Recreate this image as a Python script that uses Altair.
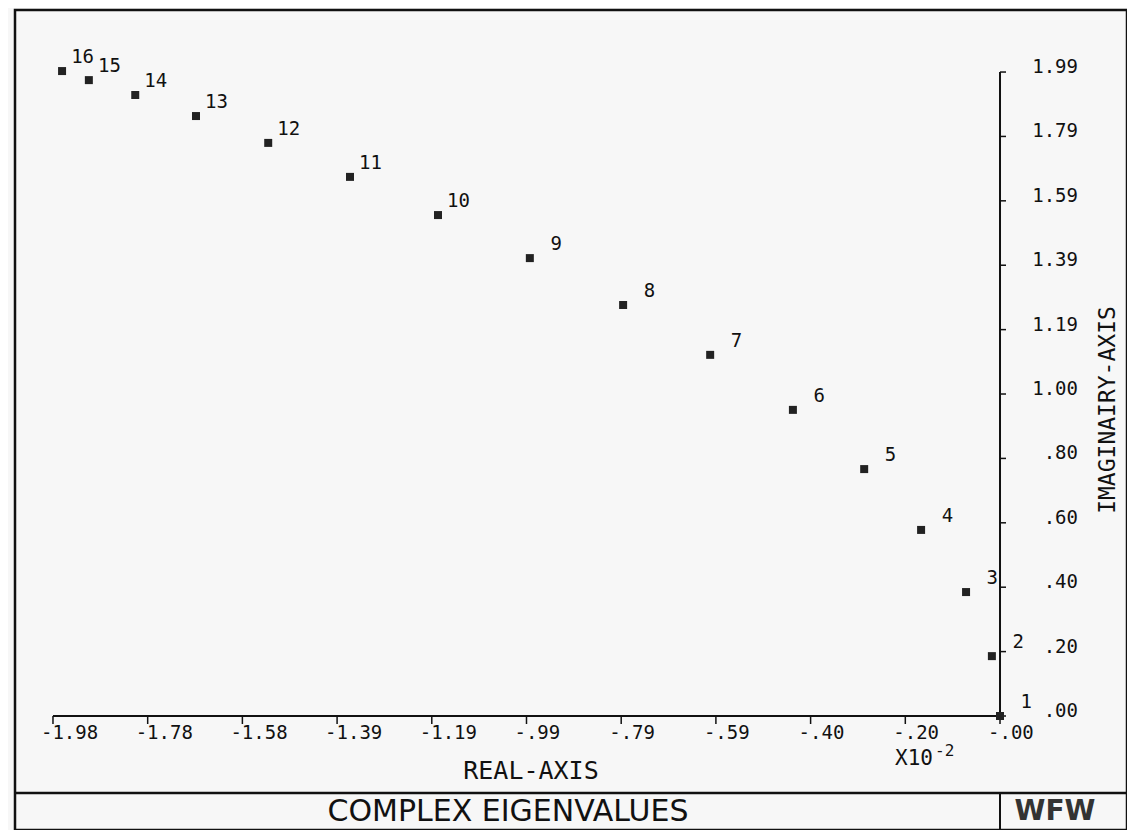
import altair as alt
import pandas as pd

# ---- data ----
point_id = list(range(1, 17))
real_part = [0.0, -0.017, -0.071, -0.165, -0.284, -0.433, -0.606, -0.788,
             -0.983, -1.175, -1.359, -1.530, -1.681, -1.808, -1.905, -1.961]
imag_part = [0.0, 0.185, 0.383, 0.575, 0.763, 0.946, 1.116, 1.270,
             1.415, 1.548, 1.666, 1.771, 1.854, 1.919, 1.965, 1.993]

x_ticks = [-1.98, -1.782, -1.584, -1.386, -1.188, -0.99, -0.792, -0.594, -0.396, -0.198, 0.0]
x_tick_labels = ["-1.98", "-1.78", "-1.58", "-1.39", "-1.19", "-.99", "-.79", "-.59", "-.40", "-.20", "-.00"]
y_ticks = [0.0, 0.199, 0.398, 0.597, 0.796, 0.995, 1.194, 1.393, 1.592, 1.791, 1.99]
y_tick_labels = [".00", ".20", ".40", ".60", ".80", "1.00", "1.19", "1.39", "1.59", "1.79", "1.99"]

x_title = "REAL-AXIS"
y_title = "IMAGINAIRY-AXIS"
scale_base = "X10"
scale_exp = "-2"
main_title = "COMPLEX EIGENVALUES"
initials = "WFW"

# ---- tables ----
pts = pd.DataFrame({"id": [str(i) for i in point_id], "x": real_part, "y": imag_part})
xt = pd.DataFrame({"x": x_ticks, "label": x_tick_labels, "y": [0.0] * len(x_ticks)})
yt = pd.DataFrame({"y": y_ticks, "label": y_tick_labels, "x": [0.0] * len(y_ticks)})
xaxis = pd.DataFrame({"x": [x_ticks[0]], "x2": [x_ticks[-1]], "y": [0.0]})
yaxis = pd.DataFrame({"x": [0.0], "y": [y_ticks[0]], "y2": [y_ticks[-1]]})

W, H = 1112, 820
xs = alt.Scale(domain=[-2.0594, 0.2655], nice=False, zero=False)
ys = alt.Scale(domain=[-0.3523, 2.1817], nice=False, zero=False)
MONO = "DejaVu Sans Mono"
INK = "#111111"

X = lambda f="x": alt.X(f"{f}:Q", scale=xs, axis=None)
Y = lambda f="y": alt.Y(f"{f}:Q", scale=ys, axis=None)

x_axis_line = alt.Chart(xaxis).mark_rule(color=INK, strokeWidth=2).encode(
    x=X(), x2="x2:Q", y=Y())
y_axis_line = alt.Chart(yaxis).mark_rule(color=INK, strokeWidth=2).encode(
    x=X(), y=Y(), y2="y2:Q")

x_tick_marks = alt.Chart(xt).mark_rule(color=INK, strokeWidth=1.5, y2Offset=8).encode(
    x=X(), y=Y(), y2="y:Q")
y_tick_marks = alt.Chart(yt).mark_rule(color=INK, strokeWidth=1.5, x2Offset=6).encode(
    x=X(), x2="x:Q", y=Y())

x_tick_text = alt.Chart(xt).mark_text(
    font=MONO, fontSize=19, color=INK, align="left", baseline="middle", dx=-12, dy=17
).encode(x=X(), y=Y(), text="label:N")
y_tick_text = alt.Chart(yt).mark_text(
    font=MONO, fontSize=19, color=INK, align="right", baseline="middle", dx=78, dy=-5
).encode(x=X(), y=Y(), text="label:N")

markers = alt.Chart(pts).mark_square(size=64, color="#222222", opacity=1).encode(
    x=X(), y=Y())
marker_labels = alt.Chart(pts).mark_text(
    font=MONO, fontSize=19, color=INK, align="right", baseline="alphabetic", dx=32, dy=-8
).encode(x=X(), y=Y(), text="id:N")


def label(txt, px, py, color=INK, **kw):
    return alt.Chart(pd.DataFrame({"t": [txt]})).mark_text(color=color, **kw).encode(
        text="t:N", x=alt.value(px), y=alt.value(py))


real_title = label(x_title, 516, 761, font=MONO, fontSize=25, align="center", baseline="middle")
imag_title = label(y_title, 1093, 400, font=MONO, fontSize=23, align="center", baseline="middle", angle=270)
note_base = label(scale_base, 880, 749, font=MONO, fontSize=21, align="left", baseline="middle")
note_exp = label(scale_exp, 920, 741, font=MONO, fontSize=16, align="left", baseline="middle")
big_title = label(main_title, 493, 802, font="DejaVu Sans", fontSize=30, align="center", baseline="middle")
wfw = label(initials, 1040, 802, color="#333333", font="DejaVu Sans", fontSize=28,
            fontWeight="bold", align="center", baseline="middle")

sep_h = alt.Chart(pd.DataFrame({"t": [0]})).mark_rule(color=INK, strokeWidth=2.5).encode(
    x=alt.value(0), x2=alt.value(W), y=alt.value(783))
sep_v = alt.Chart(pd.DataFrame({"t": [0]})).mark_rule(color=INK, strokeWidth=2).encode(
    x=alt.value(985), y=alt.value(783), y2=alt.value(H))

chart = alt.layer(
    sep_h, sep_v, x_axis_line, y_axis_line, x_tick_marks, y_tick_marks,
    x_tick_text, y_tick_text, markers, marker_labels,
    real_title, imag_title, note_base, note_exp, big_title, wfw,
).properties(
    width=W, height=H,
    autosize=alt.AutoSizeParams(type="none"),
    padding={"left": 7, "top": 2, "right": 0, "bottom": 0},
).configure(background="#f7f7f7").configure_view(stroke=INK, strokeWidth=2.5)

chart.save("out.html", embed_options={"renderer": "svg", "actions": False})
